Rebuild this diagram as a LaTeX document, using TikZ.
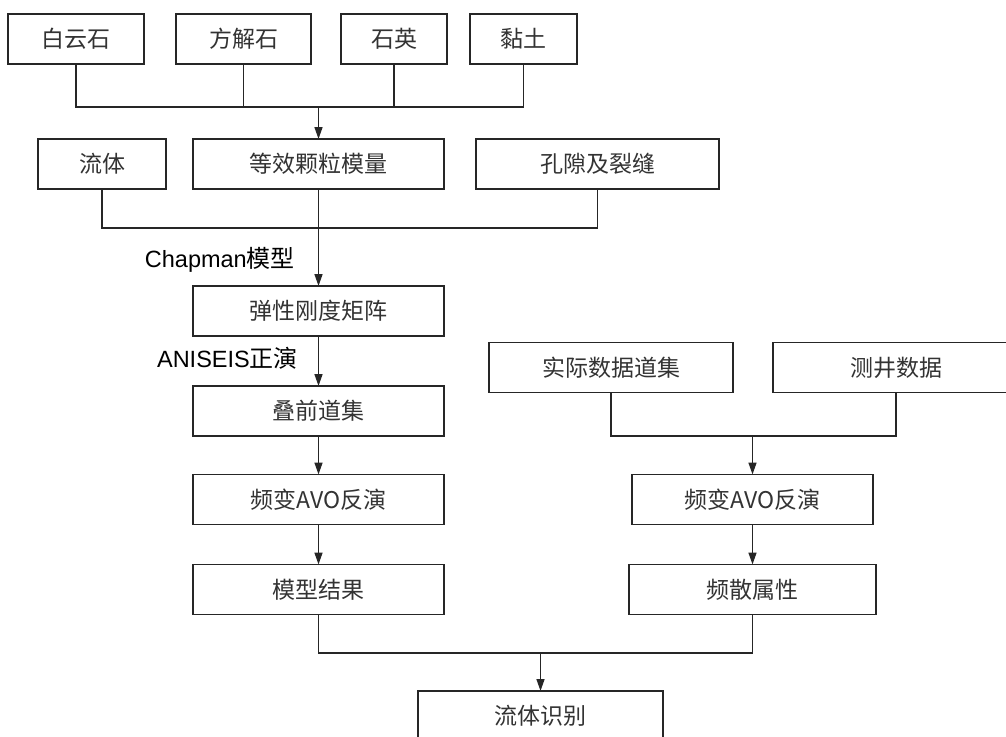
\documentclass[tikz,border=0pt]{standalone}
\usepackage{fontspec}
\setmainfont{Liberation Sans}
\newfontfamily\cjk{Noto Sans CJK SC}
\usetikzlibrary{arrows.meta}
\definecolor{linec}{HTML}{262626}
\definecolor{txtc}{HTML}{333333}
\begin{document}
\begin{tikzpicture}[x=1pt,y=-1pt,
  box/.style={draw=linec, line width=1.6pt, rectangle, inner sep=0pt, outer sep=0pt,
    minimum height=50pt, font=\cjk\fontsize{23}{27}\selectfont, text=txtc},
  conn/.style={draw=linec, line width=1.6pt},
  arr/.style={conn, -{Triangle[length=12pt,width=8pt]}},
  lab/.style={font=\fontsize{23.5}{27}\selectfont, text=black, inner sep=0pt}]
\useasboundingbox (0,0) rectangle (1006,736);
% row 1
\node[box,minimum width=136pt] (b1) at (76,39) {白云石};
\node[box,minimum width=135pt] (b2) at (243.5,39) {方解石};
\node[box,minimum width=106pt] (b3) at (394,39) {石英};
\node[box,minimum width=107pt] (b4) at (523.5,39) {黏土};
% row 2
\node[box,minimum width=128pt] (c1) at (102,164) {流体};
\node[box,minimum width=251pt] (c2) at (318.5,164) {等效颗粒模量};
\node[box,minimum width=243pt] (c3) at (597.5,164) {孔隙及裂缝};
% left column
\node[box,minimum width=251pt] (d) at (318.5,311) {弹性刚度矩阵};
\node[box,minimum width=251pt] (e) at (318.5,411) {叠前道集};
\node[box,minimum width=251pt] (f) at (318.5,499.5) {频变AVO反演};
\node[box,minimum width=251pt] (g) at (318.5,589.5) {模型结果};
% right column
\node[box,minimum width=244pt] (r1) at (611,367.5) {实际数据道集};
\node[box,minimum width=246pt] (r2) at (896,367.5) {测井数据};
\node[box,minimum width=241pt] (r3) at (752.5,499.5) {频变AVO反演};
\node[box,minimum width=247pt] (r4) at (752.5,589.5) {频散属性};
% bottom
\node[box,minimum width=245pt] (h) at (540.5,716) {流体识别};
% labels
\node[lab,anchor=base east] (l1) at (295,267) {Chapman{\cjk\fontsize{24}{27}\selectfont 模型}};
\node[lab,anchor=base east] (l2) at (298,367) {ANISEIS{\cjk\fontsize{24}{27}\selectfont 正演}};
% bus levels
\coordinate (y1) at (0,107);
\coordinate (y2) at (0,228);
\coordinate (y3) at (0,436);
\coordinate (y4) at (0,653);
% connectors
\draw[conn] (b1.south) |- (y1 -| b4.south) -- (b4.south);
\draw[conn] (b2.south) -- (b2.south |- y1);
\draw[conn] (b3.south) -- (b3.south |- y1);
\draw[arr] (c2.north |- y1) -- (c2.north);
\draw[conn] (c1.south) |- (y2 -| c3.south) -- (c3.south);
\draw[arr] (c2.south) -- (d.north);
\draw[arr] (d.south) -- (e.north);
\draw[arr] (e.south) -- (f.north);
\draw[arr] (f.south) -- (g.north);
\draw[conn] (r1.south) |- (y3 -| r2.south) -- (r2.south);
\draw[arr] (y3 -| r3.north) -- (r3.north);
\draw[arr] (r3.south) -- (r4.north);
\draw[conn] (g.south) |- (y4 -| r4.south) -- (r4.south);
\draw[arr] (y4 -| h.north) -- (h.north);
\end{tikzpicture}
\end{document}
